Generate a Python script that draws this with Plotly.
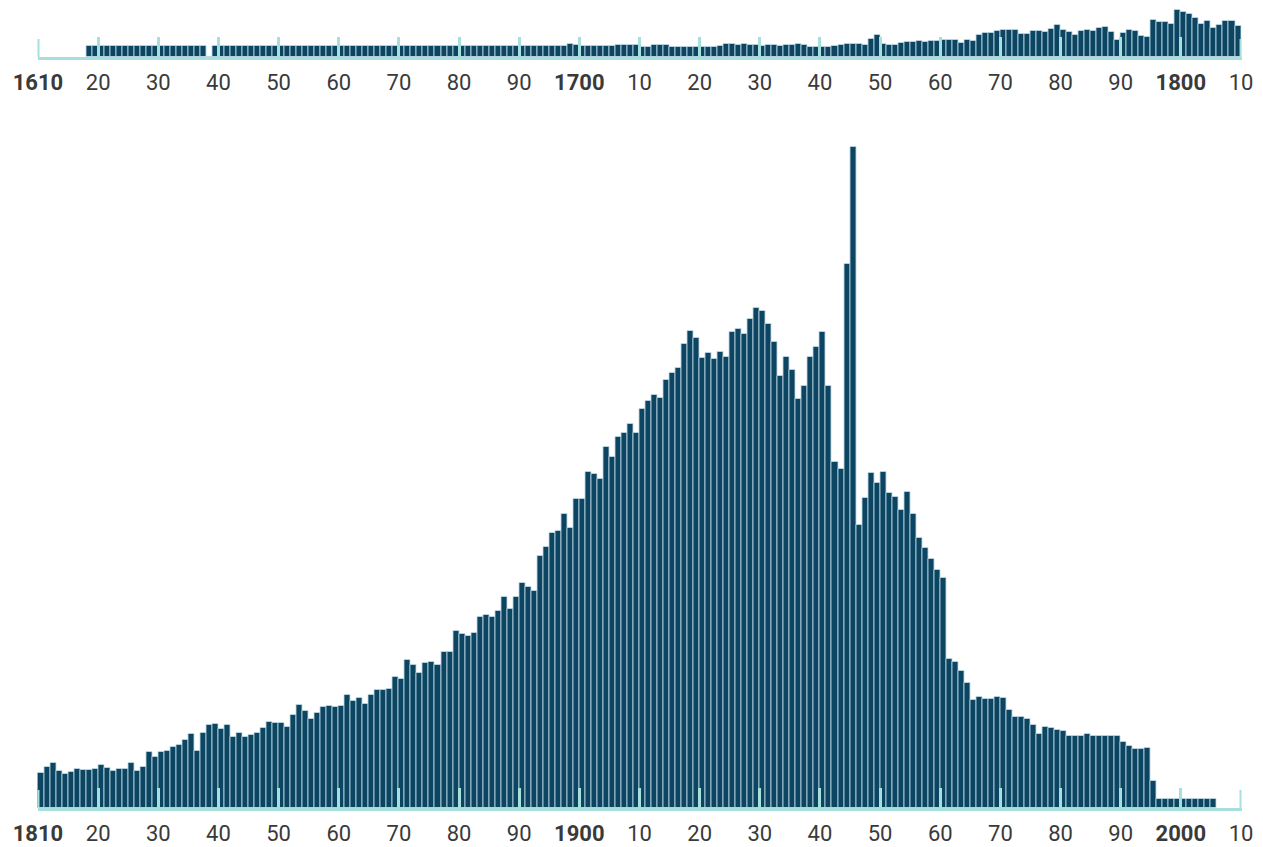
import plotly.graph_objects as go

# ---------------- data ----------------
top_years = list(range(1618, 1810))
top_values = [
    11, 11,                                              # 1618-1619
    11, 11, 11, 11, 11, 11, 11, 11, 11, 11,              # 1620s
    11, 11, 11, 11, 11, 11, 11, 11, 0, 11,               # 1630s
    11, 11, 11, 11, 11, 11, 11, 11, 11, 11,              # 1640s
    11, 11, 11, 11, 11, 11, 11, 11, 11, 11,              # 1650s
    11, 11, 11, 11, 11, 11, 11, 11, 11, 11,              # 1660s
    11, 11, 11, 11, 11, 11, 11, 11, 11, 11,              # 1670s
    11, 11, 11, 11, 11, 11, 11, 11, 11, 11,              # 1680s
    11, 11, 11, 11, 11, 11, 11, 11, 13.5, 12.5,          # 1690s
    11, 11, 11, 11, 11, 11, 12.5, 12.5, 12.5, 12,        # 1700s
    10.5, 10.5, 12, 12, 12, 10.5, 10.5, 10.5, 10.5, 10.5,  # 1710s
    10.5, 10.5, 10.5, 11, 13.5, 13, 12, 13.5, 12, 12,    # 1720s
    11.5, 12, 12, 11, 12, 12.5, 13.5, 12.5, 10.5, 10.5,  # 1730s
    10.5, 10.5, 11, 12.5, 13.5, 13.5, 13.5, 12.5, 18, 22,  # 1740s
    13.5, 12.5, 12, 14, 15, 15.5, 16, 15, 16, 16,        # 1750s
    17.5, 17.5, 17, 14.5, 17.5, 16, 22, 24, 24, 26.5,    # 1760s
    27, 27, 27, 23.5, 23.5, 26.5, 26.5, 25.5, 28.5, 32,  # 1770s
    27, 25.5, 22, 26.5, 27, 26.5, 29, 30.5, 25, 17.5,    # 1780s
    24, 27, 26.5, 21.5, 20, 37, 35, 35, 33, 47,          # 1790s
    45, 43, 39, 33, 36, 29, 32, 36, 36, 31,              # 1800s
]

bottom_years = list(range(1810, 2006))
bottom_values = [
    35, 41, 45, 37, 34, 36, 39, 38, 38, 39,              # 1810s
    43, 40, 37, 39, 39, 45, 37, 41, 56, 51,              # 1820s
    56, 57, 61, 63, 68, 74, 57, 75, 83, 84,              # 1830s
    79, 83, 71, 75, 71, 73, 75, 80, 86, 85,              # 1840s
    85, 81, 93, 103, 97, 89, 95, 101, 102, 101,          # 1850s
    102, 113, 107, 110, 104, 113, 118, 118, 119, 131,    # 1860s
    129, 148, 143, 135, 145, 146, 143, 156, 156, 177,    # 1870s
    174, 172, 175, 191, 193, 191, 197, 211, 199, 211,    # 1880s
    225, 221, 217, 252, 261, 275, 277, 294, 280, 309,    # 1890s
    309, 336, 334, 329, 361, 351, 371, 375, 384, 375,    # 1900s
    399, 407, 413, 410, 428, 435, 440, 464, 477, 470,    # 1910s
    450, 455, 449, 456, 451, 476, 479, 474, 489, 500,    # 1920s
    497, 484, 466, 432, 451, 438, 409, 422, 451, 461,    # 1930s
    476, 422, 346, 339, 544, 661, 283, 310, 335, 325,    # 1940s
    336, 315, 311, 298, 316, 294, 270, 260, 249, 238,    # 1950s
    230, 149, 146, 137, 125, 108, 111, 109, 109, 111,    # 1960s
    110, 98, 91, 91, 89, 83, 74, 81, 80, 78,             # 1970s
    77, 72, 72, 72, 74, 72, 72, 72, 72, 72,              # 1980s
    66, 62, 59, 59, 60, 27, 9, 9, 9, 9,                  # 1990s
    9, 9, 9, 9, 9, 9,                                    # 2000s
]

top_tickvals = [1610, 1620, 1630, 1640, 1650, 1660, 1670, 1680, 1690, 1700,
                1710, 1720, 1730, 1740, 1750, 1760, 1770, 1780, 1790, 1800, 1810]
top_ticktext = ["<b>1610</b>", "20", "30", "40", "50", "60", "70", "80", "90", "<b>1700</b>",
                "10", "20", "30", "40", "50", "60", "70", "80", "90", "<b>1800</b>", "10"]
bottom_tickvals = [1810, 1820, 1830, 1840, 1850, 1860, 1870, 1880, 1890, 1900,
                   1910, 1920, 1930, 1940, 1950, 1960, 1970, 1980, 1990, 2000, 2010]
bottom_ticktext = ["<b>1810</b>", "20", "30", "40", "50", "60", "70", "80", "90", "<b>1900</b>",
                   "10", "20", "30", "40", "50", "60", "70", "80", "90", "<b>2000</b>", "10"]

# ---------------- styling ----------------
# page body has an 8px margin, so the figure is 8px smaller and positions shifted by 8
OFF = 8
W, H = 1263 - OFF, 847 - OFF
BAR = "#0b4562"
EDGE = "rgba(190,215,228,0.85)"
AXIS = "#a6dfdc"
FONT = "Roboto"
PAD = 0.08

fig = go.Figure()
fig.add_trace(go.Bar(x=[y + 0.5 for y in top_years], y=top_values, width=1,
                     marker=dict(color=BAR, line=dict(color=EDGE, width=1)),
                     xaxis="x", yaxis="y", showlegend=False, hoverinfo="x+y"))
fig.add_trace(go.Bar(x=[y + 0.5 for y in bottom_years], y=bottom_values, width=1,
                     marker=dict(color=BAR, line=dict(color=EDGE, width=1)),
                     xaxis="x2", yaxis="y2", showlegend=False, hoverinfo="x+y"))

x_left, x_right = (37.5 - OFF) / W, (1241.5 - OFF) / W
top_base = 57 - OFF
bot_base = 808 - OFF
bot_top = 140 - OFF
common_x = dict(showline=True, linecolor=AXIS, linewidth=3, ticks="inside", ticklen=20,
                tickwidth=3, tickcolor=AXIS, showgrid=False, zeroline=False,
                tickfont=dict(family=FONT, size=22, color="#3a3a3a"), fixedrange=True,
                ticklabelstandoff=4, automargin=False)

# end brackets of both axes (the ticks at the two ends of each range)
shapes = []
for xr, yr, x_end in [("x", "y", top_tickvals[0]), ("x", "y", top_tickvals[-1]),
                      ("x2", "y2", bottom_tickvals[0]), ("x2", "y2", bottom_tickvals[-1])]:
    shapes.append(dict(type="line", xref=xr, yref=yr, x0=x_end, x1=x_end, y0=-3, y1=18,
                       line=dict(color=AXIS, width=3), layer="above"))

fig.update_layout(
    width=W, height=H,
    margin=dict(l=0, r=0, t=0, b=0, autoexpand=False),
    paper_bgcolor="white", plot_bgcolor="white",
    bargap=0,
    shapes=shapes,
    xaxis=dict(domain=[x_left, x_right], range=[1610 - PAD, 1810 + PAD], anchor="y",
               tickvals=top_tickvals, ticktext=top_ticktext, **common_x),
    yaxis=dict(domain=[(H - top_base) / H, 1.0], range=[0, top_base], visible=False,
               fixedrange=True),
    xaxis2=dict(domain=[x_left, x_right], range=[1810 - PAD, 2010 + PAD], anchor="y2",
                tickvals=bottom_tickvals, ticktext=bottom_ticktext, **common_x),
    yaxis2=dict(domain=[(H - bot_base) / H, (H - bot_top) / H], range=[0, bot_base - bot_top],
                visible=False, fixedrange=True),
)

fig.write_html("out.html")
